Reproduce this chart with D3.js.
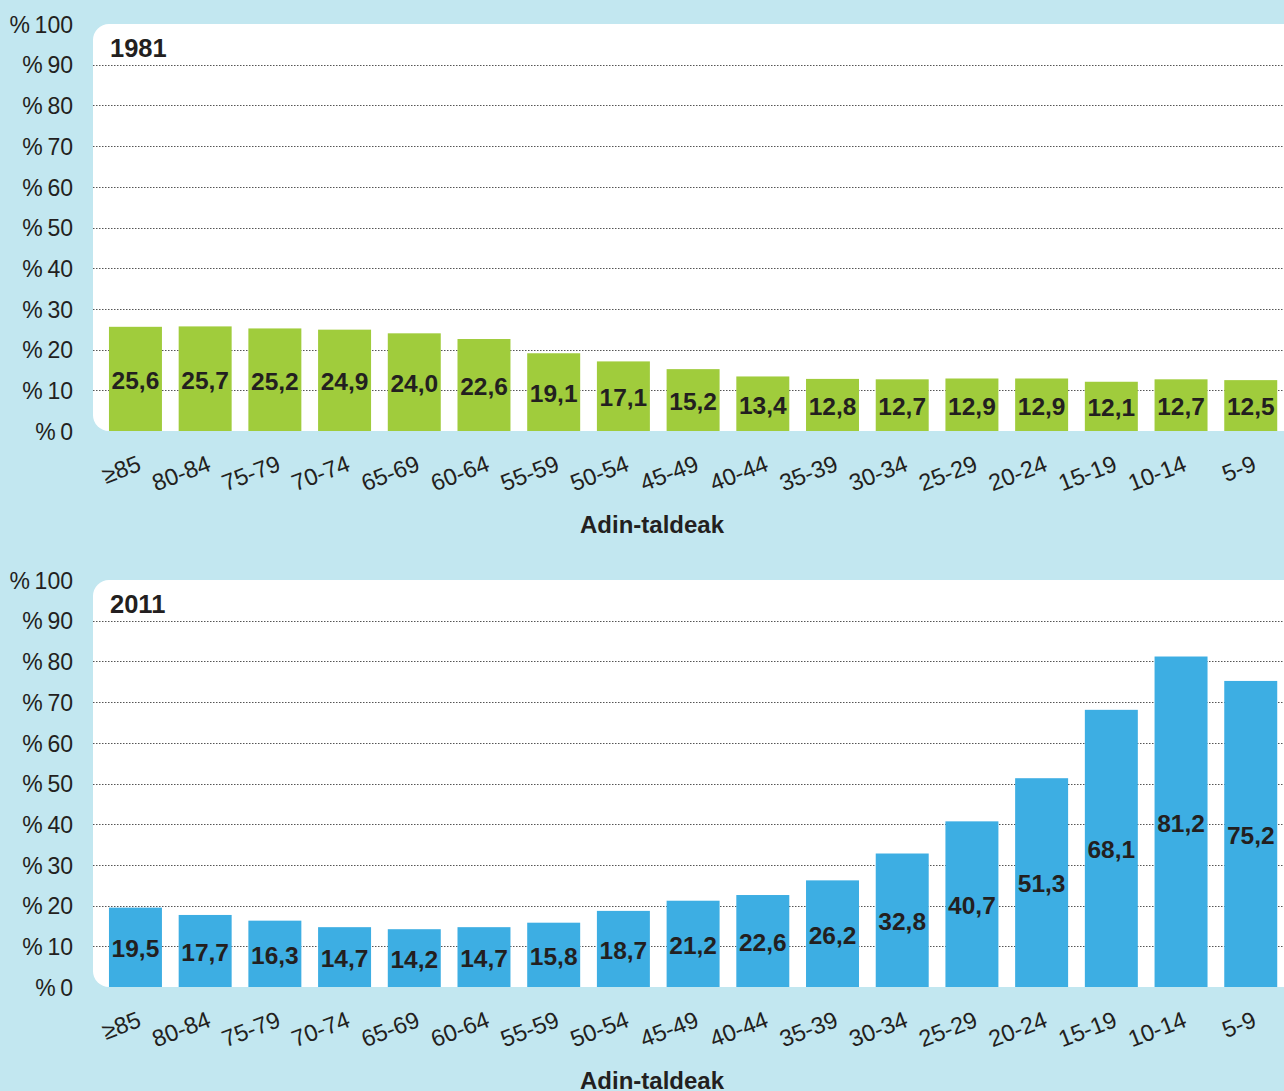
<!DOCTYPE html>
<html>
<head>
<meta charset="utf-8">
<script src="https://cdn.jsdelivr.net/npm/d3@7"></script>
<style>
  body { margin: 0; background: #c2e7f0; }
  svg { display: block; font-family: "Liberation Sans", Arial, sans-serif; }
</style>
</head>
<body>
<div id="my_dataviz"></div>
<script>
var ageGroups = ["\u226585", "80-84", "75-79", "70-74", "65-69", "60-64", "55-59", "50-54", "45-49",
                 "40-44", "35-39", "30-34", "25-29", "20-24", "15-19", "10-14", "5-9"];
var values1981 = [25.6, 25.7, 25.2, 24.9, 24.0, 22.6, 19.1, 17.1, 15.2, 13.4, 12.8, 12.7, 12.9, 12.9, 12.1, 12.7, 12.5];
var values2011 = [19.5, 17.7, 16.3, 14.7, 14.2, 14.7, 15.8, 18.7, 21.2, 22.6, 26.2, 32.8, 40.7, 51.3, 68.1, 81.2, 75.2];
var yTicks = [0, 10, 20, 30, 40, 50, 60, 70, 80, 90, 100];
var axisTitle = "Adin-taldeak";

var width = 1284, height = 1091;

var svg = d3.select("#my_dataviz")
    .append("svg")
    .attr("width", width)
    .attr("height", height);

svg.append("rect")
    .attr("width", width)
    .attr("height", height)
    .attr("fill", "#c2e7f0");

var fmt = function (v) { return v.toFixed(1).replace(".", ","); };

const drawPanel = (top, title, values, color) => {
    var data = ageGroups.map(function (g, i) { return { group: g, value: values[i] }; });

    var plotLeft = 93, plotTop = top, plotBottom = top + 407;

    var x = d3.scaleBand()
        .domain(ageGroups)
        .range([100.6, 1285.6])
        .paddingInner(0.24)
        .paddingOuter(0.12);

    var y = d3.scaleLinear()
        .domain([0, 100])
        .range([plotBottom, plotTop]);

    var g = svg.append("g");

    // white plot area, rounded on the left only
    g.append("rect")
        .attr("x", plotLeft)
        .attr("y", plotTop)
        .attr("width", width - plotLeft + 30)
        .attr("height", plotBottom - plotTop)
        .attr("rx", 16)
        .attr("fill", "#ffffff");

    // dotted gridlines
    g.selectAll(".grid")
        .data(yTicks.filter(function (t) { return t > 0 && t < 100; }))
        .enter()
        .append("line")
        .attr("x1", plotLeft)
        .attr("x2", width)
        .attr("y1", function (d) { return Math.round(y(d)) + 0.5; })
        .attr("y2", function (d) { return Math.round(y(d)) + 0.5; })
        .attr("stroke", "#555")
        .attr("stroke-width", 1)
        .attr("stroke-dasharray", "1.5,1.5");

    // y axis labels
    var yAxis = d3.axisLeft(y)
        .tickValues(yTicks)
        .tickSize(0)
        .tickPadding(0)
        .tickFormat(function (d) { return "%\u2009" + d; });
    var ya = g.append("g")
        .attr("transform", "translate(73,0)")
        .call(yAxis);
    ya.select(".domain").remove();
    ya.selectAll("text")
        .attr("font-size", 23)
        .attr("font-family", "Liberation Sans, Arial, sans-serif")
        .attr("fill", "#231f20")
        .attr("dy", "0.36em");

    g.selectAll(".bar")
        .data(data)
        .enter()
        .append("rect")
        .attr("x", function (d) { return x(d.group); })
        .attr("y", function (d) { return y(d.value); })
        .attr("width", x.bandwidth())
        .attr("height", function (d) { return plotBottom - y(d.value); })
        .attr("fill", color);

    g.selectAll(".val")
        .data(data)
        .enter()
        .append("text")
        .attr("x", function (d) { return x(d.group) + x.bandwidth() / 2; })
        .attr("y", function (d) { return (y(d.value) + plotBottom) / 2 + 1; })
        .attr("dy", "0.36em")
        .attr("text-anchor", "middle")
        .attr("font-size", 24.5)
        .attr("font-weight", "bold")
        .attr("fill", "#231f20")
        .text(function (d) { return fmt(d.value); });

    // x axis labels, rotated
    var xAxis = d3.axisBottom(x).tickSize(0).tickPadding(0);
    var xa = g.append("g")
        .attr("transform", "translate(0," + plotBottom + ")")
        .call(xAxis);
    xa.select(".domain").remove();
    xa.selectAll("text")
        .attr("font-size", 23.5)
        .attr("font-family", "Liberation Sans, Arial, sans-serif")
        .attr("fill", "#231f20")
        .attr("dy", "0")
        .attr("y", 0)
        .attr("text-anchor", "end")
        .attr("transform", "translate(7,39) rotate(-21)");

    g.append("text")
        .attr("x", plotLeft + 17)
        .attr("y", plotTop + 33)
        .attr("font-size", 25.5)
        .attr("font-weight", "bold")
        .attr("fill", "#231f20")
        .text(title);

    g.append("text")
        .attr("x", 652)
        .attr("y", plotBottom + 102)
        .attr("text-anchor", "middle")
        .attr("font-size", 24)
        .attr("font-weight", "bold")
        .attr("fill", "#231f20")
        .text(axisTitle);
};

drawPanel(24, "1981", values1981, "#a0cc3c");
drawPanel(580, "2011", values2011, "#3daee3");
</script>
</body>
</html>
